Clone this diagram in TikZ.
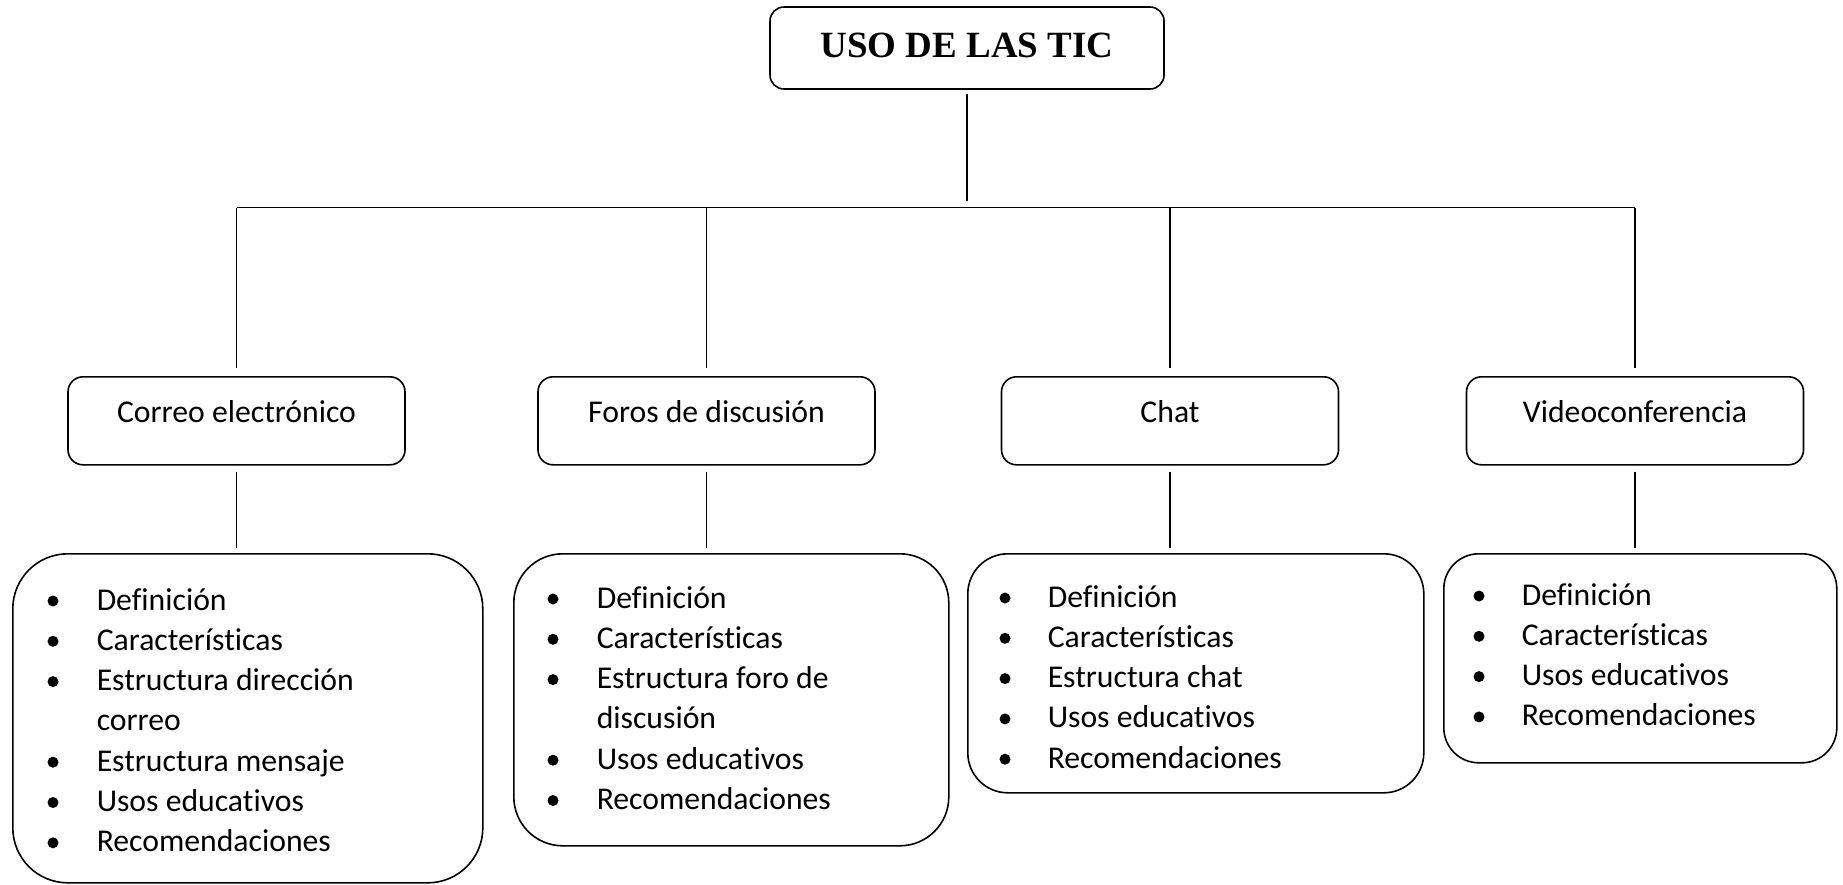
\documentclass[tikz,border=0pt]{standalone}
\usepackage{fontspec}
\setmainfont{Carlito}[Ligatures=NoCommon]
\newfontfamily\titlefont{Liberation Serif}

\tikzset{
  topbox/.style={draw, line width=1.6pt, rounded corners=14pt, minimum width=394pt, minimum height=82pt,
    text depth=6pt, font=\titlefont\bfseries\fontsize{37}{40}\selectfont},
  midbox/.style={draw, line width=1.6pt, rounded corners=15pt, anchor=north, minimum width=337pt,
    inner ysep=0pt, text height=46pt, text depth=42pt},
  listbox/.style={draw, line width=1.6pt, anchor=north west, inner sep=0pt},
  item/.style={anchor=base west, inner sep=0pt}
}

\begin{document}
\begin{tikzpicture}[x=1pt, y=-1pt, line width=1.5pt, font=\fontsize{31.7}{40}\selectfont]
\useasboundingbox (0,0) rectangle (1843,884);

% title and the four tools
\node[topbox] (tic) at (967,48) {USO DE LAS TIC};
\node[midbox] (ce) at (236.5,376) {Correo electrónico};
\node[midbox] (fd) at (706.5,376) {Foros de discusión};
\node[midbox] (ch) at (1170,376) {Chat};
\node[midbox] (vc) at (1635,376) {Videoconferencia};

% boxes with the contents
\node[listbox, rounded corners=55pt, minimum width=470pt, minimum height=329pt] (ce-box) at (12,553) {};
\node[listbox, rounded corners=49pt, minimum width=435pt, minimum height=292pt] (fd-box) at (513,553) {};
\node[listbox, rounded corners=40pt, minimum width=456pt, minimum height=239pt] (ch-box) at (967,553) {};
\node[listbox, rounded corners=35pt, minimum width=393pt, minimum height=209pt] (vc-box) at (1443,553) {};

\foreach \b/\t [count=\i] in {1/Definición, 1/Características, 1/Estructura dirección, 0/correo, 1/Estructura mensaje, 1/Usos educativos, 1/Recomendaciones}{
  \node[item] (ce-\i) at (96,{610+40.3*(\i-1)}) {\t};
  \ifnum\b=1 \fill (53,{601+40.3*(\i-1)}) circle (5.5pt); \fi
}
\foreach \b/\t [count=\i] in {1/Definición, 1/Características, 1/Estructura foro de, 0/discusión, 1/Usos educativos, 1/Recomendaciones}{
  \node[item] (fd-\i) at (596,{608+40.3*(\i-1)}) {\t};
  \ifnum\b=1 \fill (553,{599+40.3*(\i-1)}) circle (5.5pt); \fi
}
\foreach \t [count=\i] in {Definición, Características, Estructura chat, Usos educativos, Recomendaciones}{
  \node[item] (ch-\i) at (1047,{607+40.3*(\i-1)}) {\t};
  \fill (1005,{598+40.3*(\i-1)}) circle (5.5pt);
}
\foreach \t [count=\i] in {Definición, Características, Usos educativos, Recomendaciones}{
  \node[item] (vc-\i) at (1521,{605+40.3*(\i-1)}) {\t};
  \fill (1479,{596+40.3*(\i-1)}) circle (5.5pt);
}

% connectors
\coordinate (bar) at (968,207.7);
\draw[shorten <=4pt, shorten >=7pt] (tic.south) -- (tic.south |- bar);
\draw (ce.north |- bar) -- (vc.north |- bar);
\foreach \n in {ce,fd,ch,vc}{
  \draw[shorten >=8pt] (\n.north |- bar) -- (\n.north);
  \draw[shorten <=6pt, shorten >=5pt] (\n.south) -- (\n.south |- \n-box.north);
}
\end{tikzpicture}
\end{document}
